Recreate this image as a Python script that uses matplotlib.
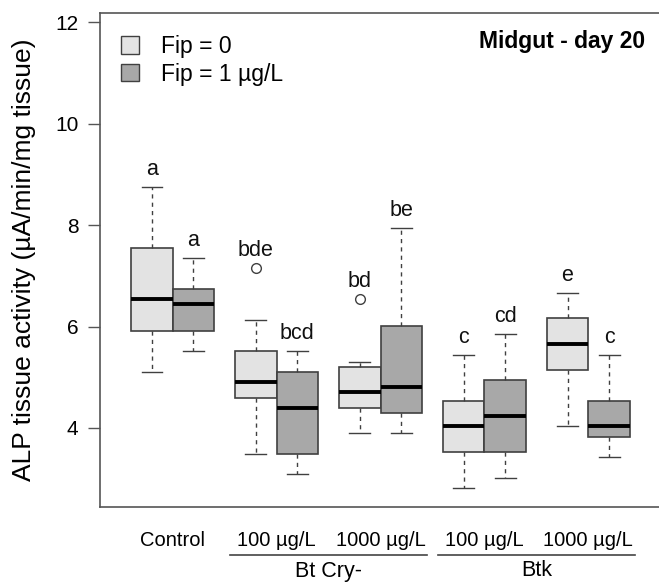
import numpy as np
import matplotlib
matplotlib.use("Agg")
import matplotlib.pyplot as plt
import matplotlib.transforms as mtransforms
from matplotlib.patches import Patch

plt.rcParams['font.family'] = ['Liberation Sans', 'DejaVu Sans']

# box statistics: (whislo, q1, med, q3, whishi)
groups = ["Control", "100 µg/L", "1000 µg/L", "100 µg/L", "1000 µg/L"]
fip0 = [(5.11, 5.92, 6.54, 7.55, 8.75),
        (3.49, 4.60, 4.91, 5.52, 6.13),
        (3.90, 4.40, 4.70, 5.21, 5.31),
        (2.81, 3.52, 4.03, 4.54, 5.44),
        (4.04, 5.14, 5.66, 6.16, 6.67)]
fip1 = [(5.52, 5.92, 6.44, 6.73, 7.35),
        (3.09, 3.49, 4.40, 5.11, 5.52),
        (3.90, 4.30, 4.80, 6.02, 7.94),
        (3.01, 3.52, 4.24, 4.95, 5.85),
        (3.42, 3.83, 4.03, 4.54, 5.44)]
fliers0 = [[], [7.15], [6.54], [], []]
fliers1 = [[], [], [], [], []]
letters0 = ["a", "bde", "bd", "c", "e"]
letters1 = ["a", "bcd", "be", "cd", "c"]
super_groups = [("Bt Cry-", 1.55, 3.45), ("Btk", 3.55, 5.45)]

light = "#e3e3e3"
dark = "#a8a8a8"
edge = "#404040"

fig = plt.figure(figsize=(6.59, 5.82), dpi=100)
ax = fig.add_axes([0.1517, 0.1289, 0.8483, 0.8488])


def make_stats(rows, fliers):
    out = []
    for (lo, q1, med, q3, hi), fl in zip(rows, fliers):
        out.append(dict(whislo=lo, q1=q1, med=med, q3=q3, whishi=hi, fliers=fl))
    return out


pos = np.arange(1, len(groups) + 1)
for rows, fl, off, col in [(fip0, fliers0, -0.2, light), (fip1, fliers1, 0.2, dark)]:
    ax.bxp(make_stats(rows, fl), positions=pos + off, widths=0.4, patch_artist=True,
           boxprops=dict(facecolor=col, edgecolor=edge, linewidth=1.2),
           medianprops=dict(color="black", linewidth=2.8),
           whiskerprops=dict(color=edge, linewidth=1.0, linestyle=(0, (3, 3))),
           capprops=dict(color=edge, linewidth=1.0),
           flierprops=dict(marker="o", markerfacecolor="white", markeredgecolor=edge,
                           markersize=7, markeredgewidth=1.0))

# significance letters above the top of each box (whisker or outlier)
for i in range(len(groups)):
    for rows, fl, lab, off in [(fip0, fliers0, letters0, -0.2), (fip1, fliers1, letters1, 0.2)]:
        top = max([rows[i][4]] + fl[i])
        ax.annotate(lab[i], (pos[i] + off, top), xytext=(0, 5), textcoords="offset points",
                    ha="center", va="bottom", fontsize=15.5, color="#111111")

ax.set_xlim(0.3, 5.68)
ax.set_ylim(2.443, 12.18)
ax.set_yticks([4, 6, 8, 10, 12])
ax.set_xticks([])
ax.tick_params(axis="y", labelsize=15, length=8.5, width=1, color="#555555", pad=7)
ax.set_ylabel("ALP tissue activity (µA/min/mg tissue)", fontsize=19, labelpad=14)
for s in ["left", "top", "bottom"]:
    ax.spines[s].set_color("#555555")
    ax.spines[s].set_linewidth(1.2)
ax.spines["right"].set_visible(False)

ax.text(0.975, 0.965, "Midgut - day 20", transform=ax.transAxes, ha="right", va="top",
        fontsize=16.5, fontweight="bold")

handles = [Patch(facecolor=light, edgecolor=edge, label="Fip = 0"),
           Patch(facecolor=dark, edgecolor=edge, label="Fip = 1 µg/L")]
ax.legend(handles=handles, loc="upper left", bbox_to_anchor=(0.0, 0.997), frameon=False,
          fontsize=16.5, handlelength=0.8, handleheight=0.8, handletextpad=0.95,
          labelspacing=0.2)

# group labels below the axis
trans = mtransforms.blended_transform_factory(ax.transData, fig.transFigure)
for p, g in zip(pos, groups):
    ax.text(p, 1 - 540 / 582, g, transform=trans, ha="center", va="center", fontsize=14.5)

line_y = 1 - 555 / 582
for name, x0, x1 in super_groups:
    ax.plot([x0, x1], [line_y, line_y], transform=trans, color="#444444", lw=1.2,
            clip_on=False)
    ax.text((x0 + x1) / 2, 1 - 571 / 582, name, transform=trans, ha="center", va="center",
            fontsize=15.5)

fig.savefig("out.png", dpi=100)
